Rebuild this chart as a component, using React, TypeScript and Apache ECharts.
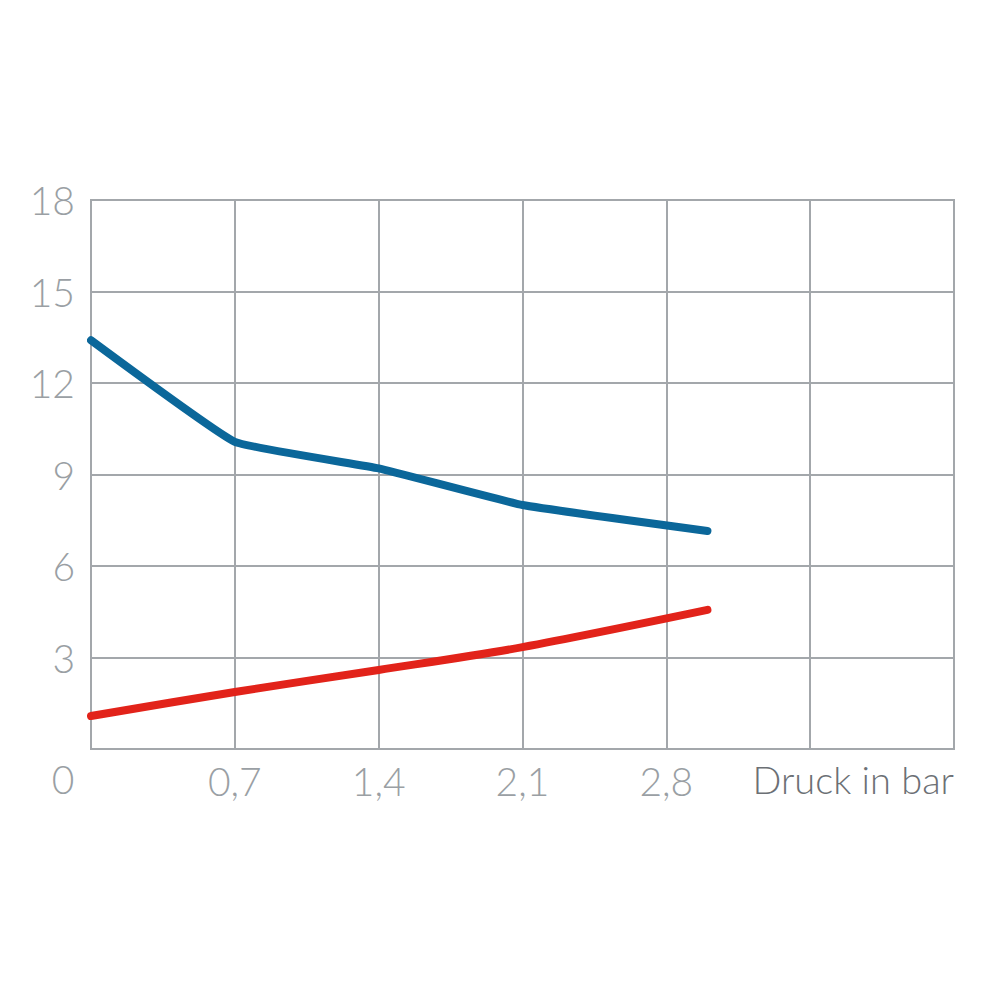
import React, { useEffect, useRef } from "react";
import * as echarts from "echarts";

const xTicks = [0, 0.7, 1.4, 2.1, 2.8, 3.5, 4.2];
const yTicks = [0, 3, 6, 9, 12, 15, 18];
const blueX = [0, 0.7, 1.4, 2.1, 3.0];
const blueY = [13.4, 10.07, 9.2, 8.0, 7.15];
const redX = [0, 0.7, 1.4, 2.1, 3.0];
const redY = [1.08, 1.87, 2.59, 3.34, 4.56];
const xAxisTitle = "Druck in bar";
const originLabel = "0";

const labelColor = "#9a9fa4";
const font = "Lato";

export default function App() {
  const ref = useRef<HTMLDivElement>(null);
  useEffect(() => {
    if (!ref.current) return;
    const chart = echarts.init(ref.current, undefined, { renderer: "svg" });
    chart.setOption({
      animation: false,
      backgroundColor: "#ffffff",
      grid: { left: 91, right: 46, top: 200, bottom: 251, containLabel: false },
      xAxis: {
        type: "value",
        min: xTicks[0],
        max: xTicks[xTicks.length - 1],
        interval: 0.7,
        axisLine: { show: false },
        axisTick: { show: false },
        splitLine: { show: true, lineStyle: { color: "#a3a7ab", width: 2 } },
        axisLabel: {
          color: labelColor,
          fontFamily: font,
          fontWeight: 300,
          fontSize: 39,
          margin: 12,
          formatter: (v: number) => {
            const r = Math.round(v * 10) / 10;
            if (r === 0 || r > 3) return "";
            return r.toFixed(1).replace(".", ",");
          },
        },
      },
      yAxis: {
        type: "value",
        min: yTicks[0],
        max: yTicks[yTicks.length - 1],
        interval: 3,
        axisLine: { show: false },
        axisTick: { show: false },
        splitLine: { show: true, lineStyle: { color: "#a3a7ab", width: 2 } },
        axisLabel: {
          color: labelColor,
          fontFamily: font,
          fontWeight: 300,
          fontSize: 39,
          margin: 16,
          formatter: (v: number) => (v === 0 ? "" : String(v)),
        },
      },
      graphic: [
        {
          type: "rect",
          shape: { x: 91, y: 200, width: 863, height: 549 },
          style: { fill: "none", stroke: "#a3a7ab", lineWidth: 2 },
          silent: true,
        },
        {
          type: "text",
          x: 63,
          y: 779,
          style: {
            text: originLabel,
            fill: labelColor,
            font: `300 39px ${font}`,
            textAlign: "center",
            textVerticalAlign: "middle",
          },
        },
        {
          type: "text",
          x: 954,
          y: 779,
          style: {
            text: xAxisTitle,
            fill: "#6c7075",
            font: `300 38px ${font}`,
            textAlign: "right",
            textVerticalAlign: "middle",
          },
        },
      ],
      series: [
        {
          type: "line",
          data: blueX.map((x, i) => [x, blueY[i]]),
          showSymbol: false,
          lineStyle: { color: "#0b679a", width: 8, cap: "round", join: "round" },
          smooth: 0.1,
        },
        {
          type: "line",
          data: redX.map((x, i) => [x, redY[i]]),
          showSymbol: false,
          lineStyle: { color: "#e2231a", width: 8, cap: "round", join: "round" },
          smooth: 0.3,
        },
      ],
    });
    return () => chart.dispose();
  }, []);
  return (
    <div
      ref={ref}
      style={{ position: "fixed", left: 0, top: 0, width: 1000, height: 1000 }}
    />
  );
}
